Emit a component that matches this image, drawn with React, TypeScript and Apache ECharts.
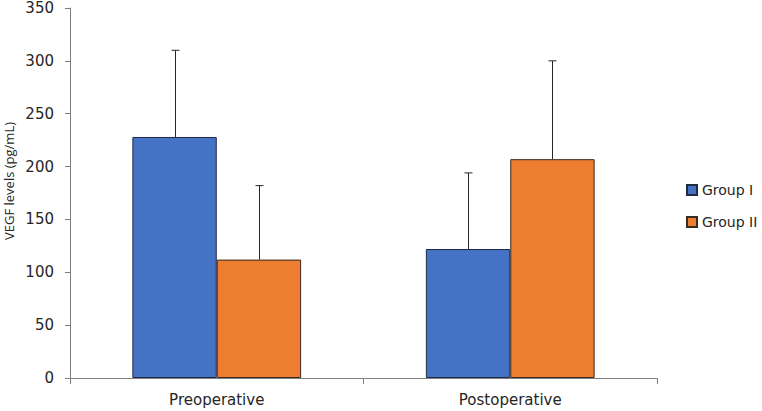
import React, { useEffect, useRef } from "react";
import * as echarts from "echarts";

const categories = ["Preoperative", "Postoperative"];
const seriesNames = ["Group I", "Group II"];
const groupIMeans = [228, 122];
const groupIUpper = [310, 194];
const groupIIMeans = [112, 207];
const groupIIUpper = [182, 300];
const yTicks = [0, 50, 100, 150, 200, 250, 300, 350];
const yAxisTitle = "VEGF levels (pg/mL)";
const colors = ["#4472C4", "#ED7D31"];

const GAP = 0.425;

function errorSeries(idx: number, means: number[], uppers: number[]) {
  const data = categories.map((_, i) => [i, means[i], uppers[i]]);
  return {
    type: "custom",
    name: seriesNames[idx] + " SD",
    z: 5,
    silent: true,
    data,
    encode: { x: 0, y: [1, 2] },
    renderItem: (params: any, api: any) => {
      const cat = api.value(0);
      const lo = api.coord([cat, api.value(1)]);
      const hi = api.coord([cat, api.value(2)]);
      const band = api.size([1, 0])[0];
      const bw = (band * (1 - GAP)) / 2;
      const x = Math.round(lo[0] + (idx === 0 ? -bw / 2 : bw / 2)) + 0.5;
      const style = { stroke: "#262626", lineWidth: 1 };
      return {
        type: "group",
        children: [
          { type: "line", shape: { x1: x, y1: lo[1], x2: x, y2: hi[1] }, style },
          { type: "line", shape: { x1: x - 4, y1: hi[1], x2: x + 4, y2: hi[1] }, style },
        ],
      };
    },
  };
}

export default function App() {
  const ref = useRef<HTMLDivElement>(null);
  useEffect(() => {
    if (!ref.current) return;
    const chart = echarts.init(ref.current, null, { renderer: "svg" });
    const font = "'DejaVu Sans', Verdana, sans-serif";
    chart.setOption({
      animation: false,
      textStyle: { fontFamily: font },
      grid: { left: 70, right: 105, top: 8, bottom: 33, containLabel: false },
      graphic: [
        {
          type: "text",
          x: 9,
          y: 181,
          rotation: Math.PI / 2,
          style: {
            text: yAxisTitle,
            align: "center",
            verticalAlign: "middle",
            fontSize: 13,
            fontFamily: "'Open Sans', sans-serif",
            fill: "#262626",
          },
        },
      ],
      legend: {
        orient: "vertical",
        left: 686,
        top: 183,
        padding: 0,
        itemWidth: 10,
        itemHeight: 10,
        itemGap: 18,
        icon: "rect",
        data: seriesNames,
        textStyle: { fontSize: 14, color: "#262626", fontFamily: font },
        selectedMode: false,
      },
      xAxis: {
        type: "category",
        data: categories,
        axisLine: { lineStyle: { color: "#7f7f7f", width: 1 } },
        axisTick: { show: true, length: 6, alignWithLabel: false, lineStyle: { color: "#7f7f7f" } },
        axisLabel: { fontSize: 15, color: "#262626", margin: 14, fontFamily: font },
      },
      yAxis: {
        type: "value",
        min: yTicks[0],
        max: yTicks[yTicks.length - 1],
        interval: 50,
        axisLine: { show: true, lineStyle: { color: "#7f7f7f", width: 1 } },
        axisTick: { show: true, length: 5, lineStyle: { color: "#7f7f7f" } },
        splitLine: { show: false },
        axisLabel: { fontSize: 15, color: "#262626", margin: 16, fontFamily: font },
      },
      series: [
        {
          type: "bar",
          name: seriesNames[0],
          data: groupIMeans,
          barGap: "0%",
          barCategoryGap: GAP * 100 + "%",
          itemStyle: { color: colors[0], borderColor: "#1f2a44", borderWidth: 1 },
        },
        {
          type: "bar",
          name: seriesNames[1],
          data: groupIIMeans,
          barGap: "0%",
          barCategoryGap: GAP * 100 + "%",
          itemStyle: { color: colors[1], borderColor: "#3a2a1f", borderWidth: 1 },
        },
        errorSeries(0, groupIMeans, groupIUpper),
        errorSeries(1, groupIIMeans, groupIIUpper),
      ],
    });
    return () => chart.dispose();
  }, []);
  return <div ref={ref} style={{ width: 762, height: 411, position: "absolute", left: 0, top: 0 }} />;
}
